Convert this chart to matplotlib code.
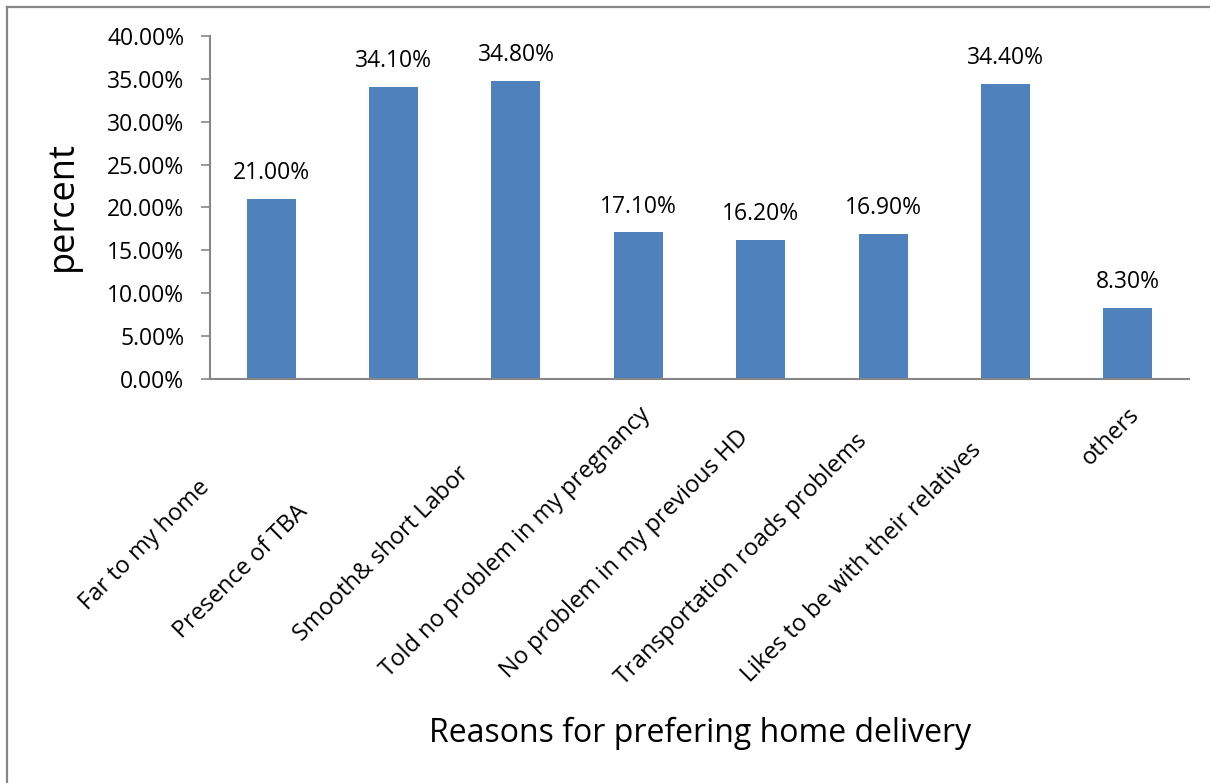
import numpy as np
import matplotlib.pyplot as plt
from matplotlib.lines import Line2D
from matplotlib.ticker import FuncFormatter

reasons = ['Far to my home', 'Presence of TBA', 'Smooth& short Labor',
           'Told no problem in my pregnancy', 'No problem in my previous HD',
           'Transportation roads problems', 'Likes to be with their relatives',
           'others']
percent = [21.0, 34.1, 34.8, 17.1, 16.2, 16.9, 34.4, 8.3]
# how far (px) each category label slides down along its 45 degree line
label_shift = [73, 97, 59, 0, 23, 27, 36, 0]

plt.rcParams['font.family'] = ['Open Sans', 'DejaVu Sans']

fig = plt.figure(figsize=(12.1, 7.83), dpi=100)
ax = fig.add_axes([0.1736, 0.516, 0.8090, 0.438])

x = np.arange(len(reasons))
ax.bar(x, percent, width=0.4, color='#4F81BD')
for xi, v in zip(x, percent):
    ax.annotate('%.2f%%' % v, xy=(xi, v), xytext=(0, 18.5), textcoords='offset points',
                ha='center', va='center', fontsize=16.5)

# rotated category labels, placed like the excel export
px = 0.72
for xi, lab, t in zip(x, reasons, label_shift):
    ax.annotate(lab, xy=(xi, 0), xycoords=('data', 'axes fraction'),
                xytext=((8 - t) * px, -(32 + t) * px), textcoords='offset points',
                rotation=45, ha='right', va='center', rotation_mode='anchor',
                fontsize=17)

ax.set_xlim(-0.5, len(reasons) - 0.5)
ax.set_ylim(0, 40)
ax.set_yticks(np.arange(0, 41, 5))
ax.yaxis.set_major_formatter(FuncFormatter(lambda v, p: '%.2f%%' % v))
ax.tick_params(axis='y', labelsize=16.5, direction='out', length=6.5, width=1.2,
               color='#868686', pad=12)
ax.set_xticks([])

for s in ['top', 'right']:
    ax.spines[s].set_visible(False)
for s in ['left', 'bottom']:
    ax.spines[s].set_color('#868686')
    ax.spines[s].set_linewidth(1.5)

ax.set_ylabel('percent', fontsize=26)
ax.yaxis.set_label_coords(-0.132, 0.504)
fig.text(0.5785, 0.064, 'Reasons for prefering home delivery', ha='center', va='center',
         fontsize=23)

# outer frame: only left and top edges show
fig.add_artist(Line2D([7 / 1210, 7 / 1210], [0, 1 - 7 / 783], transform=fig.transFigure,
                      color='#868686', linewidth=1.6))
fig.add_artist(Line2D([7 / 1210, 1], [1 - 7 / 783, 1 - 7 / 783], transform=fig.transFigure,
                      color='#868686', linewidth=1.6))

fig.savefig('out.png', dpi=100)
